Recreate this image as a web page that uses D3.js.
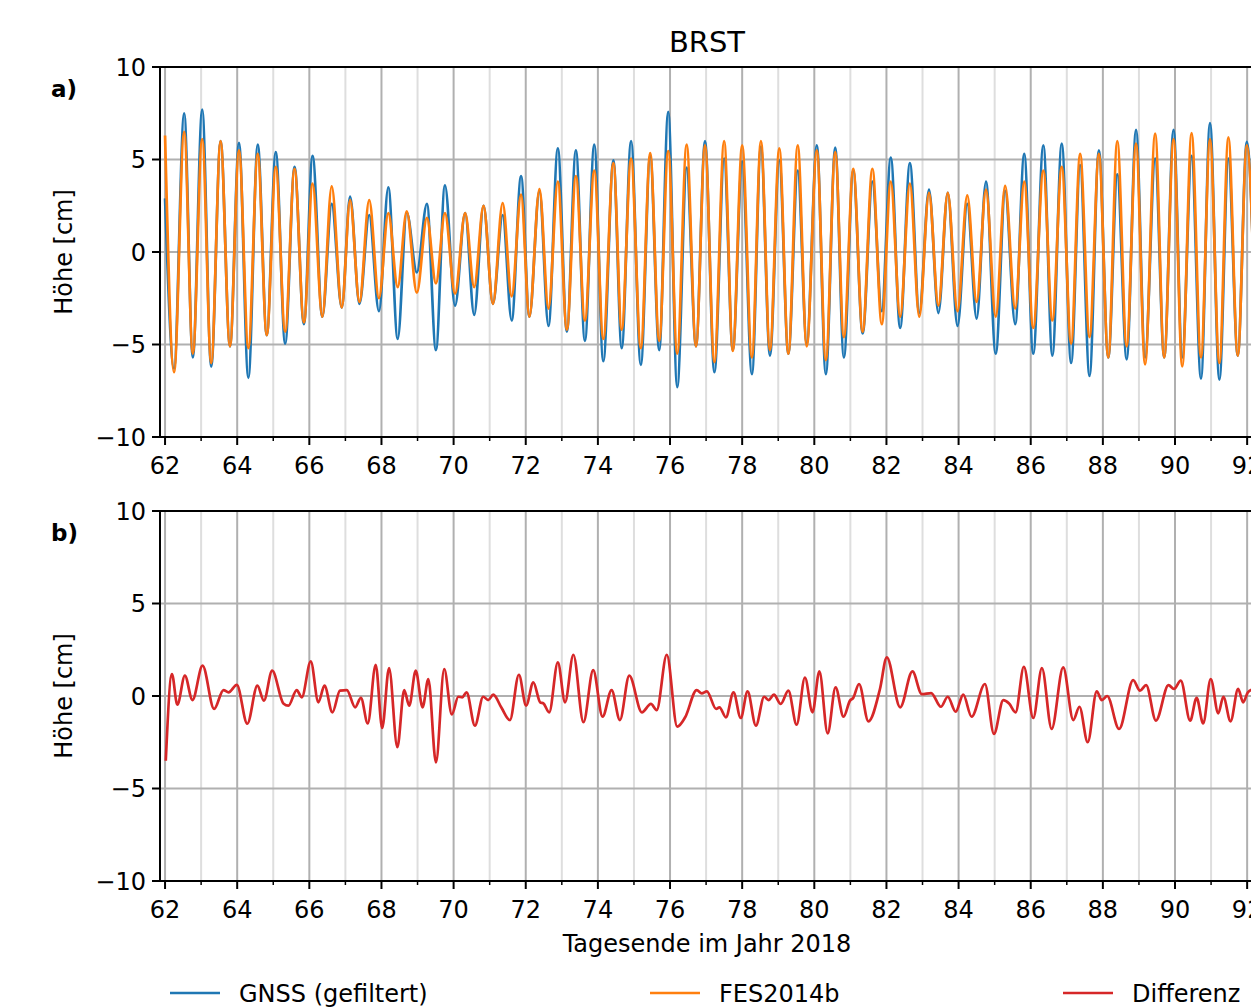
<!DOCTYPE html>
<html>
<head>
<meta charset="utf-8">
<script src="https://cdn.jsdelivr.net/npm/d3@7"></script>
<style>
body { margin: 0; background: #fff; }
text { font-family: "DejaVu Sans", sans-serif; fill: #000; }
</style>
</head>
<body>
<div class="container"></div>
<script>
// days of the tidal extremes (shared by both tide series)
var extremaDays = [
  62.00, 62.25, 62.53, 62.77, 63.03, 63.28, 63.54, 63.80, 64.05, 64.31,
  64.57, 64.82, 65.07, 65.33, 65.59, 65.85, 66.09, 66.36, 66.62, 66.90,
  67.13, 67.39, 67.66, 67.93, 68.19, 68.45, 68.70, 68.98, 69.26, 69.51,
  69.76, 70.04, 70.32, 70.57, 70.83, 71.09, 71.36, 71.61, 71.87,
  72.10, 72.38, 72.63, 72.89, 73.14, 73.39, 73.64, 73.90, 74.15, 74.43,
  74.66, 74.92, 75.19, 75.45, 75.70, 75.95, 76.20, 76.46, 76.72,
  76.97, 77.23, 77.50, 77.74, 78.00, 78.27, 78.52, 78.77, 79.03, 79.28,
  79.54, 79.79, 80.07, 80.32, 80.58, 80.82, 81.08, 81.34, 81.61, 81.87,
  82.12, 82.38, 82.65, 82.91, 83.18, 83.44, 83.70, 83.97, 84.24, 84.50,
  84.76, 85.03, 85.29, 85.57, 85.82, 86.07, 86.35, 86.60, 86.86,
  87.12, 87.37, 87.63, 87.89, 88.15, 88.40, 88.66, 88.92, 89.17, 89.45,
  89.70, 89.96, 90.20, 90.46, 90.72, 90.97, 91.23, 91.48, 91.74, 91.99, 92.25
];

// FES2014b model heights [cm]
var fesValues = [
  6.3, -6.5, 6.5, -5.5, 6.1, -6.0, 6.0, -5.1, 5.5, -5.2,
  5.3, -4.5, 4.6, -4.3, 4.5, -3.8, 3.7, -3.5, 3.55, -3.0,
  2.8, -2.7, 2.8, -2.5, 2.1, -1.9, 2.2, -2.2, 1.84, -1.7,
  2.1, -2.25, 2.1, -1.9, 2.5, -2.8, 2.65, -2.4, 3.1,
  -3.5, 3.4, -3.06, 3.8, -4.2, 4.1, -3.7, 4.4, -4.7, 4.8,
  -4.2, 5.05, -5.2, 5.35, -4.8, 5.46, -5.5, 5.8, -5.1,
  5.77, -5.95, 6.0, -5.35, 5.77, -5.7, 6.0, -5.3, 5.6, -5.5,
  5.77, -5.1, 5.5, -5.85, 5.4, -4.6, 4.5, -4.3, 4.5, -3.9,
  3.8, -3.5, 3.7, -3.5, 3.2, -2.9, 3.2, -3.2, 3.06, -2.7,
  3.37, -3.5, 3.57, -3.06, 3.8, -4.1, 4.4, -3.7, 4.6,
  -4.95, 5.3, -4.6, 5.3, -5.7, 6.0, -5.1, 5.86, -6.07, 6.4,
  -5.7, 6.1, -6.18, 6.43, -5.7, 6.1, -6.0, 6.2, -5.6, 5.77, -5.5
];

// GNSS (filtered) heights [cm]
var gnssValues = [
  2.9, -6.3, 7.5, -5.7, 7.7, -6.2, 6.0, -5.1, 5.9, -6.8,
  5.8, -4.5, 5.4, -4.95, 4.6, -3.9, 5.2, -3.5, 2.6, -3.0,
  3.0, -2.8, 2.0, -3.2, 3.5, -4.7, 2.15, -1.1, 2.6, -5.3,
  3.6, -2.9, 2.1, -3.4, 2.5, -2.8, 2.0, -3.7, 4.1,
  -3.5, 3.3, -4.0, 5.6, -4.3, 5.5, -4.8, 5.8, -5.9, 4.95,
  -5.2, 6.0, -6.1, 5.2, -5.3, 7.57, -7.3, 4.56, -5.1,
  6.0, -6.5, 5.05, -5.3, 4.9, -6.6, 5.7, -5.6, 4.95, -5.5,
  4.4, -4.95, 5.77, -6.6, 5.64, -5.7, 4.4, -4.4, 3.8, -3.2,
  5.1, -4.1, 4.8, -3.3, 3.37, -3.3, 3.2, -4.0, 2.6, -3.6,
  3.8, -5.5, 3.3, -3.9, 5.3, -5.5, 5.77, -5.6, 5.86,
  -6.0, 4.7, -6.7, 5.5, -5.7, 4.2, -5.8, 6.6, -5.7, 5.05,
  -5.7, 6.6, -5.7, 5.2, -6.85, 6.97, -6.9, 5.05, -5.6, 5.95, -5.5
];

// difference series, turning points
var diffDays = [
  62.02, 62.19, 62.34, 62.55, 62.76, 63.04, 63.36, 63.62, 63.76, 63.99,
  64.28, 64.56, 64.74, 64.97, 65.28, 65.42, 65.65, 65.79, 66.04, 66.25,
  66.42, 66.64, 66.85, 67.04, 67.27, 67.43, 67.62, 67.84, 68.02, 68.21,
  68.44, 68.63, 68.77, 68.95, 69.14, 69.30, 69.51, 69.74, 69.95, 70.13,
  70.24, 70.36, 70.59, 70.82, 70.96, 71.10, 71.32, 71.56, 71.81, 72.01,
  72.21, 72.40, 72.49, 72.65, 72.89, 73.09, 73.32, 73.60, 73.87, 74.13,
  74.38, 74.61, 74.87, 75.22, 75.47, 75.63, 75.91, 76.20, 76.42, 76.74,
  76.88, 77.02, 77.28, 77.37, 77.55, 77.76, 77.96, 78.15, 78.38, 78.61,
  78.73, 78.88, 79.07, 79.28, 79.51, 79.74, 79.95, 80.14, 80.37, 80.59,
  80.81, 80.99, 81.08, 81.24, 81.50, 81.82, 82.01, 82.38, 82.72, 82.98,
  83.24, 83.51, 83.70, 83.92, 84.13, 84.36, 84.73, 84.98, 85.24, 85.40,
  85.58, 85.81, 86.07, 86.31, 86.58, 86.90, 87.18, 87.35, 87.58, 87.83,
  87.97, 88.12, 88.45, 88.84, 89.03, 89.20, 89.47, 89.82, 89.97, 90.16,
  90.42, 90.60, 90.78, 90.99, 91.20, 91.34, 91.54, 91.75, 91.89, 92.02, 92.20
];
var diffValues = [
  -3.5, 1.19, -0.47, 1.1, -0.22, 1.64, -0.7, 0.32, 0.2, 0.6,
  -1.5, 0.56, -0.25, 1.37, -0.4, -0.52, 0.32, -0.07, 1.87, -0.34,
  0.56, -0.88, 0.29, 0.32, -0.61, -0.1, -1.48, 1.69, -1.73, 1.51,
  -2.77, 0.32, -0.52, 1.37, -0.61, 0.92, -3.59, 1.46, -1.0, -0.04,
  -0.07, 0.2, -1.6, -0.04, -0.22, 0.07, -0.61, -1.3, 1.15, -0.52,
  0.74, -0.34, -0.4, -0.88, 1.82, -0.34, 2.23, -1.42, 1.4, -1.12,
  0.32, -1.3, 1.1, -0.88, -0.43, -0.76, 2.23, -1.66, -1.15, 0.32,
  0.14, 0.25, -0.7, -0.61, -1.15, 0.2, -1.19, 0.25, -1.6, -0.04,
  -0.22, 0.07, -0.43, 0.29, -1.55, 1.0, -0.88, 1.33, -2.02, 0.47,
  -1.12, -0.25, -0.1, 0.65, -1.37, 0.38, 2.09, -0.61, 1.33, 0.1,
  0.16, -0.58, -0.04, -0.85, 0.07, -1.12, 0.65, -2.05, -0.22, -0.4,
  -0.88, 1.58, -1.19, 1.51, -1.78, 1.55, -1.3, -0.58, -2.5, 0.25,
  -0.22, 0.0, -1.78, 0.86, 0.29, 0.59, -1.33, 0.59, 0.38, 0.83,
  -1.33, -0.1, -1.48, 0.92, -0.94, -0.04, -1.37, 0.38, -0.34, 0.2, 0.4
];

var majorDays = d3.range(62, 93, 2);
var minorDays = d3.range(63, 93, 2);
var yTicks = [-10, -5, 0, 5, 10];

var width = 1251;
var height = 1007;
var left = 160, right = 1254;

var svg = d3.select(".container")
  .append("svg")
  .attr("width", width)
  .attr("height", height);

var x = d3.scaleLinear().domain([61.86, 92.19]).range([left, right]);

svg.append("defs").append("clipPath").attr("id", "plotclip")
  .append("rect").attr("x", left).attr("y", 0).attr("width", right - left).attr("height", height);

function drawPanel(top, bottom, label, series) {
  var y = d3.scaleLinear().domain([-10, 10]).range([bottom, top]);
  var g = svg.append("g");

  // grid, minor first
  g.selectAll(".minor").data(minorDays).enter().append("line")
    .attr("x1", function (d) { return x(d); })
    .attr("x2", function (d) { return x(d); })
    .attr("y1", top).attr("y2", bottom)
    .style("stroke", "#dedede").style("stroke-width", 2);
  g.selectAll(".major").data(majorDays).enter().append("line")
    .attr("x1", function (d) { return x(d); })
    .attr("x2", function (d) { return x(d); })
    .attr("y1", top).attr("y2", bottom)
    .style("stroke", "#b0b0b0").style("stroke-width", 2);
  g.selectAll(".hgrid").data([-5, 0, 5]).enter().append("line")
    .attr("x1", left).attr("x2", right)
    .attr("y1", function (d) { return y(d); })
    .attr("y2", function (d) { return y(d); })
    .style("stroke", "#b0b0b0").style("stroke-width", 2);

  // data lines
  var lines = g.append("g").attr("clip-path", "url(#plotclip)");
  series.forEach(function (s) {
    var pts = s.days.map(function (d, i) { return [d, s.values[i]]; });
    var line = d3.line()
      .x(function (p) { return x(p[0]); })
      .y(function (p) { return y(p[1]); })
      .curve(d3.curveMonotoneX);
    lines.append("path")
      .datum(pts)
      .attr("d", line)
      .style("fill", "none")
      .style("stroke", s.color)
      .style("stroke-width", 2.7)
      .style("stroke-linejoin", "round");
  });

  // spines
  g.append("rect")
    .attr("x", left).attr("y", top)
    .attr("width", right - left).attr("height", bottom - top)
    .style("fill", "none").style("stroke", "#000").style("stroke-width", 2);

  // x ticks
  g.selectAll(".xt").data(majorDays).enter().append("line")
    .attr("x1", function (d) { return x(d); })
    .attr("x2", function (d) { return x(d); })
    .attr("y1", bottom).attr("y2", bottom + 8)
    .style("stroke", "#000").style("stroke-width", 2);
  g.selectAll(".xtm").data(minorDays).enter().append("line")
    .attr("x1", function (d) { return x(d); })
    .attr("x2", function (d) { return x(d); })
    .attr("y1", bottom).attr("y2", bottom + 4)
    .style("stroke", "#000").style("stroke-width", 1.5);
  g.selectAll(".xl").data(majorDays).enter().append("text")
    .attr("x", function (d) { return x(d); })
    .attr("y", bottom + 37)
    .attr("text-anchor", "middle")
    .style("font-size", "24px")
    .text(function (d) { return d; });

  // y ticks
  g.selectAll(".yt").data(yTicks).enter().append("line")
    .attr("x1", left - 8).attr("x2", left)
    .attr("y1", function (d) { return y(d); })
    .attr("y2", function (d) { return y(d); })
    .style("stroke", "#000").style("stroke-width", 2);
  g.selectAll(".yl").data(yTicks).enter().append("text")
    .attr("x", left - 14)
    .attr("y", function (d) { return y(d); })
    .attr("dy", "0.36em")
    .attr("text-anchor", "end")
    .style("font-size", "24px")
    .text(function (d) { return d < 0 ? "\u2212" + Math.abs(d) : d; });

  g.append("text")
    .attr("transform", "translate(72," + y(0) + ") rotate(-90)")
    .attr("text-anchor", "middle")
    .style("font-size", "24px")
    .text("Höhe [cm]");

  g.append("text")
    .attr("x", 51).attr("y", top + 30)
    .style("font-size", "23px")
    .style("font-weight", "bold")
    .text(label);
}

drawPanel(67, 437, "a)", [
  { days: extremaDays, values: gnssValues, color: "#1f77b4" },
  { days: extremaDays, values: fesValues, color: "#ff7f0e" }
]);
drawPanel(511, 881, "b)", [
  { days: diffDays, values: diffValues, color: "#d62728" }
]);

svg.append("text")
  .attr("x", (left + right) / 2).attr("y", 52)
  .attr("text-anchor", "middle")
  .style("font-size", "29px")
  .text("BRST");

svg.append("text")
  .attr("x", (left + right) / 2).attr("y", 952)
  .attr("text-anchor", "middle")
  .style("font-size", "24px")
  .text("Tagesende im Jahr 2018");

// legend
var legendItems = [
  { name: "GNSS (gefiltert)", color: "#1f77b4", x: 170 },
  { name: "FES2014b", color: "#ff7f0e", x: 650 },
  { name: "Differenz", color: "#d62728", x: 1063 }
];
var leg = svg.selectAll(".leg").data(legendItems).enter().append("g");
leg.append("line")
  .attr("x1", function (d) { return d.x; })
  .attr("x2", function (d) { return d.x + 50; })
  .attr("y1", 993).attr("y2", 993)
  .style("stroke", function (d) { return d.color; })
  .style("stroke-width", 2.4);
leg.append("text")
  .attr("x", function (d) { return d.x + 69; })
  .attr("y", 1002)
  .style("font-size", "24px")
  .text(function (d) { return d.name; });
</script>
</body>
</html>
